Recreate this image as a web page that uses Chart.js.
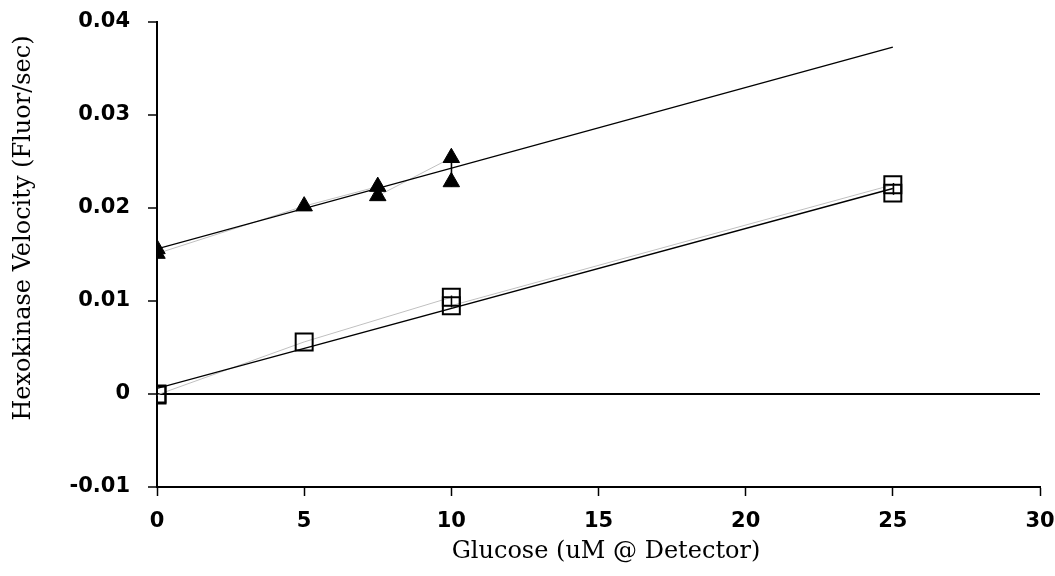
<!DOCTYPE html>
<html>
<head>
<meta charset="utf-8">
<script src="https://cdn.jsdelivr.net/npm/chart.js@4.4.1/dist/chart.umd.min.js"></script>
<style>
  body { margin: 0; background: #fff; }
  canvas { display: block; }
</style>
</head>
<body>
<canvas id="chart" width="1055" height="576"></canvas>
<script>
const triX = [0, 0, 5, 7.5, 7.5, 10, 10];
const triY = [0.0156, 0.0151, 0.0202, 0.0223, 0.0213, 0.0254, 0.0228];
const sqX = [0, 0, 5, 10, 10, 25, 25];
const sqY = [0.0000, -0.0001, 0.0056, 0.0104, 0.0095, 0.0225, 0.0216];

// fitted lines, end points
const fitX = [0, 25];
const triFitY = [0.0156, 0.0373];
const sqFitY = [0.0006, 0.0221];

const xTitle = 'Glucose (uM @ Detector)';
const yTitle = 'Hexokinase Velocity (Fluor/sec)';

function toPoints(xs, ys) {
    return xs.map((x, i) => ({ x: x, y: ys[i] }));
}

// mean +/- sd for each replicate group
function groups(xs, ys) {
    const out = [];
    const seen = {};
    xs.forEach((x, i) => {
        if (!seen[x]) { seen[x] = []; out.push(x); }
        seen[x].push(ys[i]);
    });
    return out.map(x => {
        const v = seen[x];
        const m = v.reduce((a, b) => a + b, 0) / v.length;
        let sd = 0;
        if (v.length > 1) {
            sd = Math.sqrt(v.reduce((a, b) => a + (b - m) * (b - m), 0) / (v.length - 1));
        }
        return { x: x, lo: m - sd, hi: m + sd };
    });
}

const errorBars = {
    id: 'errorBars',
    afterDatasetsDraw(chart) {
        const ctx = chart.ctx;
        const xs = chart.scales.x, ys = chart.scales.y;
        ctx.save();
        ctx.strokeStyle = '#000';
        ctx.lineWidth = 1.5;
        groups(triX, triY).concat(groups(sqX, sqY)).forEach(g => {
            const px = Math.round(xs.getPixelForValue(g.x)) + 0.5;
            ctx.beginPath();
            ctx.moveTo(px, ys.getPixelForValue(g.lo));
            ctx.lineTo(px, ys.getPixelForValue(g.hi));
            ctx.stroke();
        });
        ctx.restore();
    }
};

const axisTitles = {
    id: 'axisTitles',
    afterDraw(chart) {
        const ctx = chart.ctx;
        ctx.save();
        ctx.fillStyle = '#000';
        ctx.font = '24px "DejaVu Serif"';
        ctx.textAlign = 'center';
        ctx.textBaseline = 'middle';
        ctx.fillText(xTitle, 606, 552);
        ctx.translate(24, 228);
        ctx.rotate(-Math.PI / 2);
        ctx.fillText(yTitle, 0, 0);
        ctx.restore();
    }
};

const tickFont = { family: 'DejaVu Sans', size: 21, weight: 'bold' };

new Chart(document.getElementById('chart'), {
    type: 'scatter',
    data: {
        datasets: [
            {
                data: toPoints(triX, triY),
                pointStyle: 'triangle',
                pointRadius: 9.5,
                backgroundColor: '#000',
                borderColor: '#000',
                borderWidth: 1,
                showLine: false
            },
            {
                data: toPoints(sqX, sqY),
                pointStyle: 'rect',
                pointRadius: 12,
                backgroundColor: 'rgba(0,0,0,0)',
                borderColor: '#000',
                borderWidth: 2,
                showLine: false
            },
            {
                data: toPoints(fitX, triFitY),
                showLine: true,
                borderColor: '#000',
                borderWidth: 1.4,
                pointRadius: 0
            },
            {
                data: toPoints(fitX, sqFitY),
                showLine: true,
                borderColor: '#000',
                borderWidth: 1.4,
                pointRadius: 0
            },
            {
                data: toPoints(triX, triY),
                showLine: true,
                borderColor: '#c0c0c0',
                borderWidth: 1,
                pointRadius: 0
            },
            {
                data: toPoints(sqX, sqY),
                showLine: true,
                borderColor: '#c0c0c0',
                borderWidth: 1,
                pointRadius: 0
            }
        ]
    },
    options: {
        responsive: false,
        animation: false,
        layout: { padding: { top: 22, right: 15, left: 0, bottom: 0 } },
        plugins: {
            legend: { display: false },
            tooltip: { enabled: false }
        },
        scales: {
            x: {
                type: 'linear',
                min: 0,
                max: 30,
                ticks: { stepSize: 5, color: '#000', font: tickFont, padding: 13 },
                grid: { drawOnChartArea: false, tickLength: 9, tickColor: '#000', tickWidth: 1.5 },
                border: { color: '#000', width: 2 },
                afterFit: function(scale) {
                    scale.height = 89;
                    scale.paddingLeft = 0;
                    scale.paddingRight = 0;
                }
            },
            y: {
                min: -0.01,
                max: 0.04,
                ticks: {
                    stepSize: 0.01,
                    color: '#000',
                    font: tickFont,
                    padding: 18,
                    callback: function(v) {
                        const r = Math.round(v * 100) / 100;
                        return r === 0 ? '0' : r.toFixed(2);
                    }
                },
                grid: {
                    color: function(c) { return c.tick && Math.abs(c.tick.value) < 1e-9 ? '#000' : 'rgba(0,0,0,0)'; },
                    lineWidth: 2,
                    tickLength: 9,
                    tickColor: '#000',
                    tickWidth: 1.5
                },
                border: { color: '#000', width: 2 },
                afterFit: function(scale) {
                    scale.width = 157;
                    scale.paddingTop = 0;
                    scale.paddingBottom = 0;
                }
            }
        }
    },
    plugins: [errorBars, axisTitles]
});
</script>
</body>
</html>
